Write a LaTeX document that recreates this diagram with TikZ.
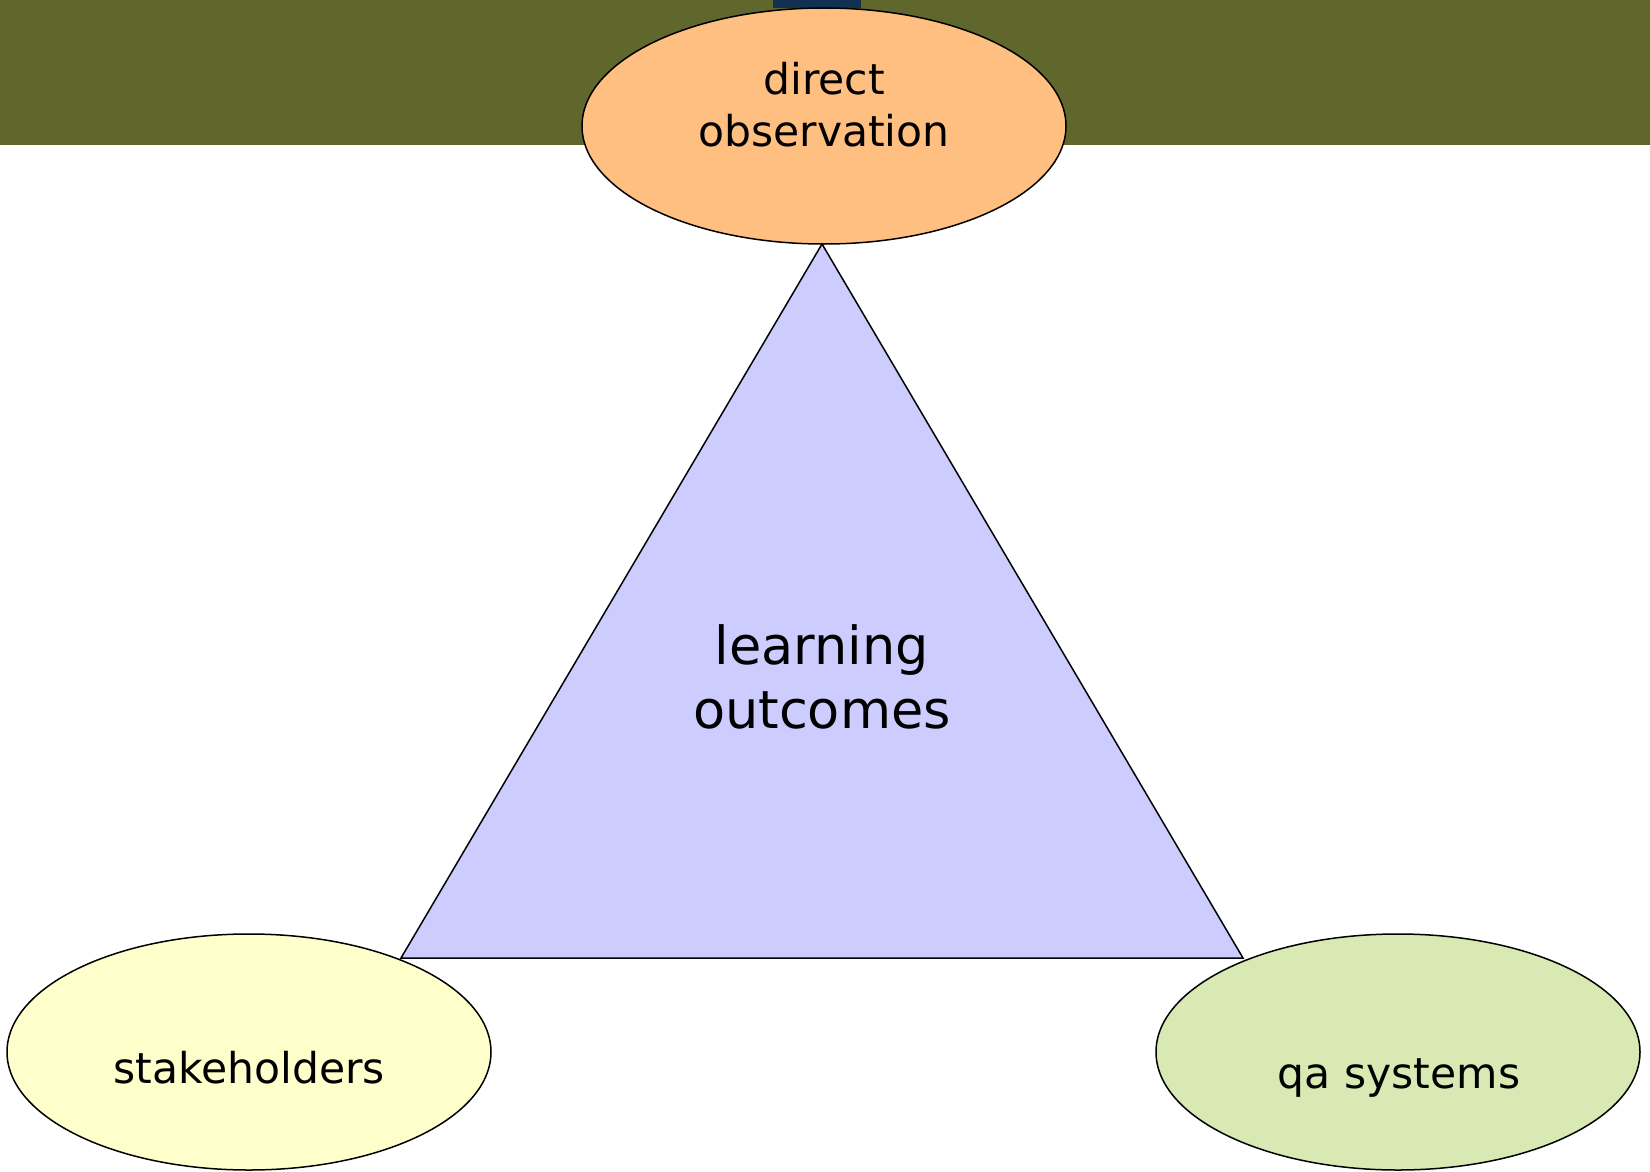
\documentclass[tikz,border=0pt]{standalone}
\usepackage{fontspec}
\setmainfont{DejaVu Sans}
\usetikzlibrary{shapes.geometric}
\definecolor{barolive}{HTML}{5F672D}
\definecolor{bardark}{HTML}{12304F}
\definecolor{orangefill}{HTML}{FFBF80}
\definecolor{yellowfill}{HTML}{FFFFCC}
\definecolor{greenfill}{HTML}{D8E9B4}
\definecolor{trifill}{HTML}{CCCCFF}
\tikzset{
  ell/.style={ellipse, draw=black, line width=1.5pt, minimum width=484pt, minimum height=236pt, inner sep=0pt},
  small/.style={font=\fontsize{42.5}{51}\selectfont, align=center, anchor=base, inner sep=0pt},
  big/.style={font=\fontsize{52.5}{64}\selectfont, align=center, anchor=base, inner sep=0pt}
}
\begin{document}
\begin{tikzpicture}[x=1pt,y=-1pt]
\useasboundingbox (0,0) rectangle (1650,1172);
\fill[white] (0,0) rectangle (1650,1172);
% top bar
\fill[barolive] (0,0) rectangle (1650,145);
\fill[bardark] (773,0) rectangle (861,8);
% triangle
\coordinate (apex) at (822,244);
\coordinate (bl) at (401,958);
\coordinate (br) at (1243,958);
\filldraw[fill=trifill, draw=black, line width=1.5pt, line join=miter] (apex) -- (bl) -- (br) -- cycle;
\node[big] (lo) at (822,664) {learning};
\node[big] (lo2) at (822,728) {outcomes};
% ellipses
\node[ell, fill=orangefill] (obs) at (824,126) {};
\node[small] (obsT1) at (824,95) {direct};
\node[small] (obsT2) at (824,146) {observation};
\node[ell, fill=yellowfill] (stk) at (249,1052) {};
\node[small] (stkT) at (249,1083) {stakeholders};
\node[ell, fill=greenfill] (qa) at (1398,1052) {};
\node[small] (qaT) at (1399,1088) {qa systems};
\end{tikzpicture}
\end{document}
